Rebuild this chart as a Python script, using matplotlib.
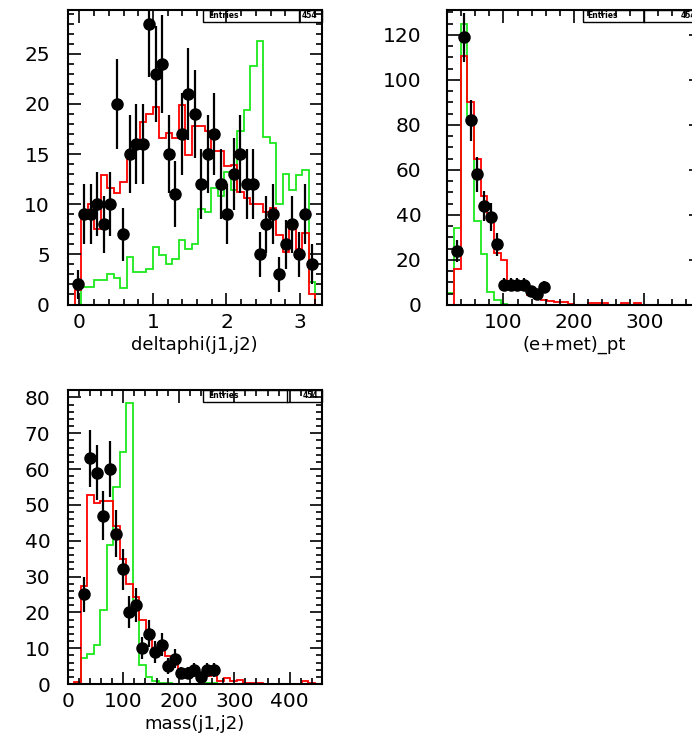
import numpy as np
import matplotlib
matplotlib.use('Agg')
import matplotlib.pyplot as plt
from matplotlib.ticker import MultipleLocator
from matplotlib.patches import Rectangle
from matplotlib.lines import Line2D

# deltaphi(j1,j2) : bin start, bin width, per-bin contents
dphi_lo, dphi_width = -0.155, 0.0885
dphi_data = [0, 2, 9, 9, 10, 8, 10, 20, 7, 15, 16, 16, 28, 23, 24, 15, 11, 17, 21, 19,
             12, 15, 17, 12, 9, 13, 15, 12, 12, 5, 8, 9, 3, 6, 8, 5, 9, 4, 0]
dphi_red = [0, 1.4, 9.3, 10.0, 7.5, 12.9, 11.6, 11.1, 12.2, 14.8, 16.3, 18.2, 19.0, 19.7,
            16.6, 17.1, 16.6, 19.9, 14.9, 17.8, 17.8, 17.3, 15.3, 15.3, 13.8, 13.9, 11.2,
            10.6, 10.0, 10.0, 9.2, 9.6, 6.9, 5.2, 7.5, 5.5, 7.1, 1.0, 0]
dphi_green = [0, 0, 1.7, 1.7, 2.4, 2.4, 3.0, 2.6, 1.6, 4.7, 3.2, 3.2, 3.5, 5.7, 4.9, 4.0,
              4.5, 6.4, 5.5, 6.0, 9.5, 9.2, 11.6, 10.8, 13.2, 11.4, 17.3, 19.4, 23.8, 26.3,
              16.7, 16.1, 10.0, 13.0, 11.4, 12.9, 13.4, 2.2, 0]

# (e+met)_pt
ept_lo, ept_width = 20.0, 9.5
ept_data = [0, 24, 119, 82, 58, 44, 39, 27, 9, 9, 9, 9, 6, 5, 8, 0, 0, 0, 0, 0,
            0, 0, 0, 0, 0, 0, 0, 0, 0, 0, 0, 0, 0, 0, 0, 0, 0, 0, 0, 0]
ept_red = [0, 16, 110.5, 90, 64.7, 48.4, 40.7, 23, 20, 10.4, 8.9, 7.9, 4.4, 3.7, 2.2, 1.8,
           1.5, 1.2, 0.3, 0.2, 0.1, 0.7, 0.7, 0.7, 0.2, 0.1, 0.7, 0.1, 0.7, 0, 0, 0, 0, 0,
           0, 0, 0, 0, 0, 0]
ept_green = [5.2, 34, 125, 83.7, 37.5, 22.7, 5.9, 2.2, 0.4, 0, 0, 0, 0, 0, 0, 0, 0, 0, 0, 0,
             0, 0, 0, 0, 0, 0, 0, 0, 0, 0, 0, 0, 0, 0, 0, 0, 0, 0, 0, 0]

# mass(j1,j2)
mjj_lo, mjj_width = 0.0, 11.7
mjj_data = [0, 0, 25, 63, 59, 47, 60, 42, 32, 20, 22, 10, 14, 9, 11, 5, 7, 3, 3, 4,
            2, 4, 4, 0, 0, 0, 0, 0, 0, 0, 0, 0, 0, 0, 0, 0, 0, 0, 0, 0]
mjj_red = [0, 0.5, 27.3, 52.7, 50.6, 51.2, 51.2, 44.1, 34.8, 27.9, 24.4, 17.9, 14.1, 10, 10,
           7.8, 6.2, 3.9, 3.4, 2.8, 2.2, 2.2, 2.5, 0.7, 1.8, 0.7, 1.0, 0.3, 0.3, 0.2, 0.1,
           0.1, 0.1, 0.1, 0.1, 0.1, 0.8, 0.2, 0.1, 0]
mjj_green = [0, 0.4, 7.2, 8.4, 10.9, 20.7, 38.8, 54.9, 64.8, 78.5, 21.8, 5.3, 1.9, 0.7, 0.4,
             0.2, 0.1, 0.1, 0, 0, 0, 0.3, 0.3, 0, 0, 0, 0, 0, 0, 0, 0, 0, 0, 0, 0, 0, 0, 0, 0, 0]

entries = 454

W, H = 692, 738
RED = '#ff0000'
GREEN = '#1ee81e'

fig = plt.figure(figsize=(W / 100, H / 100), dpi=100)


def px_axes(left, top, right, bottom):
    return fig.add_axes([left / W, 1 - bottom / H, (right - left) / W, (bottom - top) / H])


def fx(x):
    return x / W


def fy(y):
    return 1 - y / H


def draw_panel(ax, lo, width, data, red, green, xlim, ylim, xmaj, xmin, ymaj, ymin, label, ypad):
    n = len(red)
    edges = lo + width * np.arange(n + 1)
    ax.stairs(green, edges, color=GREEN, lw=1.3, baseline=0)
    ax.stairs(red, edges, color=RED, lw=1.3, baseline=0)
    counts = np.array(data, dtype=float)
    centres = 0.5 * (edges[:-1] + edges[1:])
    sel = counts > 0
    ax.errorbar(centres[sel], counts[sel], yerr=np.sqrt(counts[sel]), fmt='o', color='black',
                ms=8, elinewidth=1.6, capsize=0, zorder=5)
    ax.set_xlim(*xlim)
    ax.set_ylim(*ylim)
    ax.xaxis.set_major_locator(MultipleLocator(xmaj))
    ax.xaxis.set_minor_locator(MultipleLocator(xmin))
    ax.yaxis.set_major_locator(MultipleLocator(ymaj))
    ax.yaxis.set_minor_locator(MultipleLocator(ymin))
    ax.tick_params(which='both', direction='in', top=True, right=True, width=1.2, color='black')
    ax.tick_params(which='major', length=9)
    ax.tick_params(which='minor', length=4.3)
    ax.tick_params(axis='x', which='major', labelsize=14.5, pad=5.8)
    ax.tick_params(axis='y', which='major', labelsize=14.5, pad=ypad)
    for s in ax.spines.values():
        s.set_linewidth(1.5)
    ax.set_xlabel(label, fontsize=13, labelpad=3)


def stats_box(left, top, right, divider):
    bottom = top + 12
    fig.add_artist(Rectangle((fx(left), fy(bottom)), fx(right - left), fy(top) - fy(bottom),
                             transform=fig.transFigure, fill=False, lw=1.0, ec='black'))
    fig.add_artist(Line2D([fx(divider), fx(divider)], [fy(top), fy(bottom)],
                          transform=fig.transFigure, lw=1.0, color='black'))
    fig.text(fx(left + 5), fy(top + 6), 'Entries', fontsize=5.5, fontweight='bold',
             va='center', ha='left')
    fig.text(fx(right - 4), fy(top + 6), str(entries), fontsize=5.5, fontweight='bold',
             va='center', ha='right')


ax1 = px_axes(67.5, 10, 321.5, 304.5)
draw_panel(ax1, dphi_lo, dphi_width, dphi_data, dphi_red, dphi_green,
           (-0.163, 3.293), (0, 29.36), 1, 0.2, 5, 1, 'deltaphi(j1,j2)', 12.6)

ax2 = px_axes(447.2, 10, 700.5, 305)
draw_panel(ax2, ept_lo, ept_width, ept_data, ept_red, ept_green,
           (20, 380), (0, 131.1), 100, 20, 20, 5, '(e+met)_pt', 18.6)

ax3 = px_axes(67.75, 390, 322, 684)
draw_panel(ax3, mjj_lo, mjj_width, mjj_data, mjj_red, mjj_green,
           (0, 458), (0, 82.05), 100, 20, 10, 2, 'mass(j1,j2)', 12.6)

stats_box(203, 10, 321.5, 299)
stats_box(582.7, 10, 700.5, 644.3)
stats_box(203, 390, 322, 286.7)

fig.savefig('out.png', dpi=100)
